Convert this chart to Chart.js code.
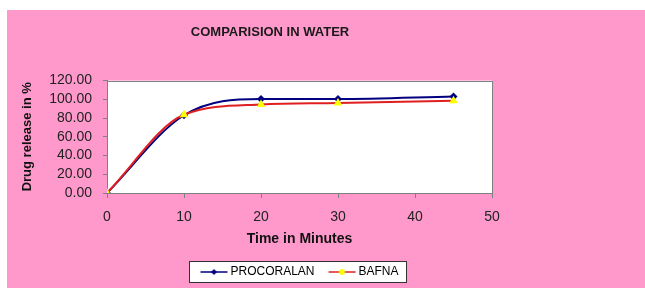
<!DOCTYPE html>
<html>
<head>
<meta charset="utf-8">
<script src="https://cdn.jsdelivr.net/npm/chart.js@4"></script>
<style>
  html, body { margin: 0; padding: 0; background: #fff; }
  #wrap { position: absolute; left: 7px; top: 10px; width: 638px; height: 278px; background: #ff99cc; }
</style>
</head>
<body>
<div id="wrap"><canvas id="myChart"></canvas></div>
<script>
// values
const minutes = [0, 10, 20, 30, 45];
const procoralan = [0, 83, 100.4, 100.3, 103];
const bafna = [0, 83.5, 94.5, 96, 98.5];
const yTicks = [0, 20, 40, 60, 80, 100, 120];
const xTicks = [0, 10, 20, 30, 40, 50];

function toPoints(vals) {
    return minutes.map((m, i) => ({ x: m, y: vals[i] }));
}

// line + marker sample for the legend; the line sits at the right of the image
// so that the text follows it closely
function legendSample(lineColor, markColor, shape) {
    const c = document.createElement('canvas');
    c.width = 32; c.height = 10;
    const g = c.getContext('2d');
    g.strokeStyle = lineColor; g.lineWidth = 1.5;
    g.beginPath(); g.moveTo(4, 5); g.lineTo(31, 5); g.stroke();
    g.fillStyle = markColor;
    g.beginPath();
    if (shape === 'diamond') {
        g.moveTo(17.5, 2); g.lineTo(20.5, 5); g.lineTo(17.5, 8); g.lineTo(14.5, 5);
    } else {
        g.arc(17.5, 5, 3, 0, Math.PI * 2);
    }
    g.closePath(); g.fill();
    return c;
}

const samples = [
    legendSample('#000080', '#000080', 'diamond'),
    legendSample('#e02020', '#ffff00', 'dot')
];

const plotFrame = {
    id: 'plotFrame',
    beforeDraw(chart) {
        const a = chart.chartArea, ctx = chart.ctx;
        ctx.save();
        ctx.fillStyle = '#ffffff';
        ctx.fillRect(a.left, a.top, a.right - a.left, a.bottom - a.top);
        const hb = chart.legend.legendHitBoxes;
        if (hb && hb.length) {
            const l = hb[0].left - 11;
            const r = hb[hb.length - 1].left + hb[hb.length - 1].width + 8;
            const t = hb[0].top + hb[0].height / 2 - 11;
            ctx.fillRect(l, t, r - l, 21);
            ctx.strokeStyle = '#333';
            ctx.lineWidth = 1;
            ctx.strokeRect(Math.round(l) + 0.5, Math.round(t) + 0.5, Math.round(r - l), 21);
        }
        ctx.restore();
    },
    beforeDatasetsDraw(chart) {
        const a = chart.chartArea, ctx = chart.ctx;
        ctx.save();
        ctx.strokeStyle = '#808080';
        ctx.lineWidth = 1;
        ctx.strokeRect(Math.round(a.left) + 0.5, Math.round(a.top) + 0.5,
            Math.round(a.right - a.left), Math.round(a.bottom - a.top));
        ctx.restore();
    }
};

const ctx = document.getElementById('myChart').getContext('2d');
const myChart = new Chart(ctx, {
    type: 'line',
    data: {
        datasets: [{
            label: 'PROCORALAN',
            data: toPoints(procoralan),
            borderColor: '#000080',
            backgroundColor: '#000080',
            borderWidth: 2,
            pointStyle: 'rectRot',
            pointRadius: 4,
            pointBorderWidth: 0,
            cubicInterpolationMode: 'monotone',
            order: 1
        }, {
            label: 'BAFNA',
            data: toPoints(bafna),
            borderColor: '#e02020',
            backgroundColor: '#ffff00',
            borderWidth: 2,
            pointStyle: 'triangle',
            pointRadius: 5,
            pointBorderWidth: 0,
            cubicInterpolationMode: 'monotone',
            order: 0
        }]
    },
    options: {
        responsive: true,
        maintainAspectRatio: false,
        animation: false,
        layout: { padding: { left: 7, right: 119, top: 0, bottom: 0 } },
        plugins: {
            title: {
                display: true,
                text: 'COMPARISION IN WATER',
                color: '#1a1a1a',
                font: { family: 'Arial', size: 13, weight: 'bold' },
                padding: { top: 15, bottom: 40 }
            },
            legend: {
                position: 'bottom',
                fullSize: false,
                labels: {
                    usePointStyle: true,
                    pointStyleWidth: 24,
                    boxHeight: 10,
                    padding: 14,
                    color: '#111',
                    font: { family: 'Arial', size: 12 },
                    generateLabels: (chart) => chart.data.datasets.map((d, i) => ({
                        text: d.label,
                        pointStyle: samples[i],
                        fillStyle: d.backgroundColor,
                        strokeStyle: d.borderColor,
                        lineWidth: 0,
                        hidden: false,
                        datasetIndex: i
                    }))
                }
            },
            tooltip: { enabled: false }
        },
        scales: {
            x: {
                type: 'linear',
                min: 0,
                max: 50,
                afterBuildTicks: (s) => { s.ticks = xTicks.map(v => ({ value: v })); },
                afterFit: (s) => { s.height = 59; },
                grid: { drawOnChartArea: false, drawTicks: true, tickLength: 5, color: '#808080' },
                border: { color: '#808080' },
                ticks: { padding: 11, autoSkip: false, color: '#222', font: { family: 'Arial', size: 14 } },
                title: {
                    display: true,
                    text: 'Time in Minutes',
                    color: '#111',
                    font: { family: 'Arial', size: 14, weight: 'bold' },
                    padding: { top: 6, bottom: 4 }
                }
            },
            y: {
                min: 0,
                max: 120,
                afterBuildTicks: (s) => { s.ticks = yTicks.map(v => ({ value: v })); },
                afterFit: (s) => { s.width = 93; },
                grid: { drawOnChartArea: false, drawTicks: true, tickLength: 4, color: '#808080' },
                border: { color: '#808080' },
                ticks: {
                    padding: 11,
                    autoSkip: false,
                    color: '#222',
                    font: { family: 'Arial', size: 14 },
                    callback: (v) => v.toFixed(2)
                },
                title: {
                    display: true,
                    text: 'Drug release in %',
                    color: '#111',
                    font: { family: 'Arial', size: 13, weight: 'bold' },
                    padding: { top: 6, bottom: 4 }
                }
            },
            y2: {
                position: 'right',
                display: true,
                grid: { display: false },
                border: { display: false },
                ticks: { display: false },
                afterFit: (s) => { s.width = 34; }
            }
        }
    },
    plugins: [plotFrame]
});
</script>
</body>
</html>
